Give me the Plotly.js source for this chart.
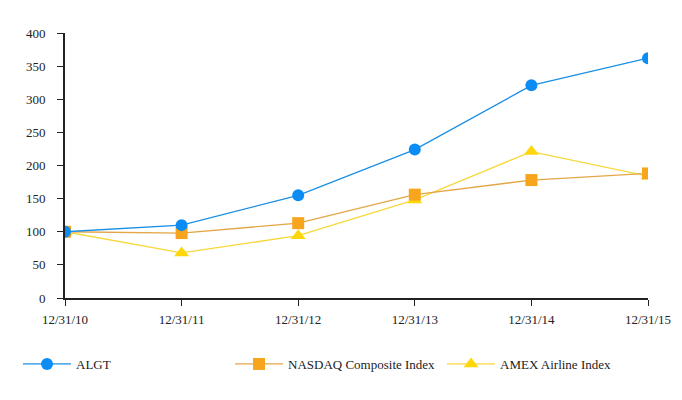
<!DOCTYPE html>
<html>
<head>
<meta charset="utf-8">
<script src="https://cdn.plot.ly/plotly-3.0.1.min.js"></script>
<style>html,body{margin:0;padding:0;background:#fff;}#chart{width:682px;height:400px;}</style>
</head>
<body>
<div id="chart"></div>
<script>
const dates = ["12/31/10", "12/31/11", "12/31/12", "12/31/13", "12/31/14", "12/31/15"];
const algt = [100, 110, 155, 224, 321, 362];
const nasdaq = [100, 98, 113, 156, 178, 188];
const amex = [100, 68, 94, 148, 221, 184];
const yTicks = [0, 50, 100, 150, 200, 250, 300, 350, 400];

const traces = [
  {x: dates, y: amex, name: "AMEX Airline Index", type: "scatter", mode: "lines+markers",
   line: {color: "#f7d83a", width: 1.3}, marker: {symbol: "triangle-up", size: 13, color: "#ffd60a"}},
  {x: dates, y: nasdaq, name: "NASDAQ Composite Index", type: "scatter", mode: "lines+markers",
   line: {color: "#e3a646", width: 1.3}, marker: {symbol: "square", size: 12, color: "#f7a51c"}},
  {x: dates, y: algt, name: "ALGT", type: "scatter", mode: "lines+markers",
   line: {color: "#1a8fe3", width: 1.3}, marker: {symbol: "circle", size: 12, color: "#0b8df5"}}
];

const layout = {
  width: 682, height: 400,
  margin: {l: 65, r: 34, t: 33, b: 102},
  paper_bgcolor: "#fff", plot_bgcolor: "#fff",
  font: {family: "'Liberation Serif', 'Times New Roman', serif", size: 13, color: "#222"},
  showlegend: true,
  legend: {orientation: "h", traceorder: "reversed",
           x: -0.0806, xanchor: "left", y: -0.1925, yanchor: "top",
           itemwidth: 48, entrywidth: 149, entrywidthmode: "pixels", font: {size: 13}},
  xaxis: {type: "category", range: [0, 5], showgrid: false, zeroline: false,
          showline: true, linecolor: "#222", linewidth: 2, ticks: "outside", ticklen: 6, tickcolor: "#222",
          ticklabelstandoff: 2, tickfont: {size: 13}},
  yaxis: {range: [0, 400], tickvals: yTicks, showgrid: false, zeroline: false,
          showline: true, linecolor: "#222", linewidth: 2, ticks: "outside", ticklen: 6, tickcolor: "#222",
          ticklabelstandoff: 9, tickfont: {size: 13}}
};

Plotly.newPlot("chart", traces, layout, {displayModeBar: false, staticPlot: true});
</script>
</body>
</html>
